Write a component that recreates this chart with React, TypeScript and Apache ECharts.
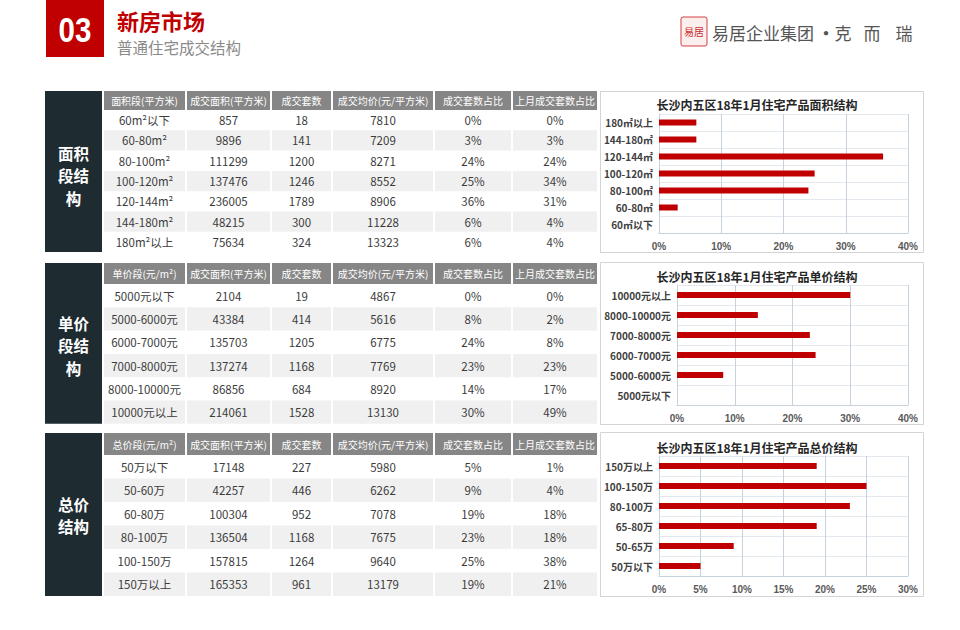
import React, { useEffect, useRef } from "react";
import * as echarts from "echarts";

// ---------- data ----------
const areaHeaders = ["面积段(平方米)", "成交面积(平方米)", "成交套数", "成交均价(元/平方米)", "成交套数占比", "上月成交套数占比"];
const areaRanges = ["60m²以下", "60-80m²", "80-100m²", "100-120m²", "120-144m²", "144-180m²", "180m²以上"];
const areaDealArea = [857, 9896, 111299, 137476, 236005, 48215, 75634];
const areaUnits = [18, 141, 1200, 1246, 1789, 300, 324];
const areaAvgPrice = [7810, 7209, 8271, 8552, 8906, 11228, 13323];
const areaShare = [0, 3, 24, 25, 36, 6, 6];
const areaPrevShare = [0, 3, 24, 34, 31, 4, 4];
const areaChartCats = ["60㎡以下", "60-80㎡", "80-100㎡", "100-120㎡", "120-144㎡", "144-180㎡", "180㎡以上"];

const unitHeaders = ["单价段(元/m²)", "成交面积(平方米)", "成交套数", "成交均价(元/平方米)", "成交套数占比", "上月成交套数占比"];
const unitRanges = ["5000元以下", "5000-6000元", "6000-7000元", "7000-8000元", "8000-10000元", "10000元以上"];
const unitDealArea = [2104, 43384, 135703, 137274, 86856, 214061];
const unitUnits = [19, 414, 1205, 1168, 684, 1528];
const unitAvgPrice = [4867, 5616, 6775, 7769, 8920, 13130];
const unitShare = [0, 8, 24, 23, 14, 30];
const unitPrevShare = [0, 2, 8, 23, 17, 49];
const unitChartCats = ["5000元以下", "5000-6000元", "6000-7000元", "7000-8000元", "8000-10000元", "10000元以上"];

const totalHeaders = ["总价段(元/m²)", "成交面积(平方米)", "成交套数", "成交均价(元/平方米)", "成交套数占比", "上月成交套数占比"];
const totalRanges = ["50万以下", "50-60万", "60-80万", "80-100万", "100-150万", "150万以上"];
const totalDealArea = [17148, 42257, 100304, 136504, 157815, 165353];
const totalUnits = [227, 446, 952, 1168, 1264, 961];
const totalAvgPrice = [5980, 6262, 7078, 7675, 9640, 13179];
const totalShare = [5, 9, 19, 23, 25, 19];
const totalPrevShare = [1, 4, 18, 18, 38, 21];
const totalChartCats = ["50万以下", "50-65万", "65-80万", "80-100万", "100-150万", "150万以上"];

const chartTitles = ["长沙内五区18年1月住宅产品面积结构", "长沙内五区18年1月住宅产品单价结构", "长沙内五区18年1月住宅产品总价结构"];
const sideLabels = [["面积", "段结", "构"], ["单价", "段结", "构"], ["总价", "结构"]];

// ---------- layout ----------
const CJK = '"Noto Sans CJK SC", "Noto Sans", sans-serif';
const RED = "#c00000";
const colEdges = [103, 186, 271, 332, 434, 512, 598];

type TableLayout = { top: number; headerH: number; rowH: number; labelMid: number };
const tableLayouts: TableLayout[] = [
  { top: 91, headerH: 19, rowH: 20.3, labelMid: 175 },
  { top: 263, headerH: 21, rowH: 23.3, labelMid: 345 },
  { top: 433, headerH: 22, rowH: 23.5, labelMid: 515 },
];

function pct(v: number) {
  return v + "%";
}

function buildTable(idx: number, headers: string[], rows: string[][]) {
  const L = tableLayouts[idx];
  const els: any[] = [];
  const bottom = L.top + L.headerH + L.rowH * rows.length;
  els.push({
    type: "rect",
    shape: { x: 45, y: L.top, width: 57, height: bottom - L.top },
    style: { fill: "#1e2b31" },
  });
  const lines = sideLabels[idx];
  const lh = 22.5;
  lines.forEach((t, k) => {
    els.push({
      type: "text",
      x: 73.5,
      y: L.labelMid + (k - (lines.length - 1) / 2) * lh,
      style: {
        text: t,
        fill: "#ffffff",
        font: `bold 15.5px ${CJK}`,
        align: "center",
        verticalAlign: "middle",
      },
    });
  });
  for (let c = 0; c < 6; c++) {
    const x0 = colEdges[c] + 1;
    const x1 = colEdges[c + 1] - 1;
    els.push({
      type: "rect",
      shape: { x: x0, y: L.top, width: x1 - x0, height: L.headerH },
      style: { fill: "#868686" },
    });
    els.push({
      type: "text",
      x: (x0 + x1) / 2,
      y: L.top + L.headerH / 2,
      style: {
        text: headers[c],
        fill: "#ffffff",
        font: `10px ${CJK}`,
        align: "center",
        verticalAlign: "middle",
      },
    });
  }
  rows.forEach((row, r) => {
    const y0 = L.top + L.headerH + r * L.rowH;
    for (let c = 0; c < 6; c++) {
      const x0 = colEdges[c] + 1;
      const x1 = colEdges[c + 1] - 1;
      if (r % 2 === 1) {
        els.push({
          type: "rect",
          shape: { x: x0, y: y0, width: x1 - x0, height: L.rowH },
          style: { fill: "#f0f0f0" },
        });
      }
      els.push({
        type: "text",
        x: (x0 + x1) / 2,
        y: y0 + L.rowH / 2,
        style: {
          text: row[c],
          fill: "#3c3c3c",
          font: `11.5px ${CJK}`,
          align: "center",
          verticalAlign: "middle",
        },
      });
    }
  });
  return els;
}

function makeRows(r: string[], a: number[], u: number[], p: number[], s: number[], ps: number[]) {
  return r.map((name, i) => [name, String(a[i]), String(u[i]), String(p[i]), pct(s[i]), pct(ps[i])]);
}

const chartBoxes = [
  { top: 91, bottom: 252, gridLeft: 659, gridTop: 114, gridBottom: 233, titleY: 104, max: 40, interval: 10 },
  { top: 262, bottom: 424, gridLeft: 677, gridTop: 285, gridBottom: 405, titleY: 276, max: 40, interval: 10 },
  { top: 432, bottom: 596, gridLeft: 659, gridTop: 456, gridBottom: 576, titleY: 447, max: 30, interval: 5 },
];
const chartCats = [areaChartCats, unitChartCats, totalChartCats];
const chartVals = [areaShare, unitShare, totalShare];

export default function App() {
  const ref = useRef<HTMLDivElement>(null);
  useEffect(() => {
    if (!ref.current) return;
    const chart = echarts.init(ref.current, undefined, { renderer: "svg" });

    const graphics: any[] = [];
    graphics.push({ type: "rect", shape: { x: 46, y: 0, width: 58, height: 57 }, style: { fill: RED } });
    graphics.push({
      type: "text",
      x: 75,
      y: 29,
      scaleX: 0.82,
      style: { text: "03", fill: "#fff", font: `bold 36px "Liberation Sans", Arial, sans-serif`, align: "center", verticalAlign: "middle" },
    });
    graphics.push({
      type: "text",
      x: 117,
      y: 20,
      style: { text: "新房市场", fill: RED, font: `bold 22px ${CJK}`, align: "left", verticalAlign: "middle" },
    });
    graphics.push({
      type: "text",
      x: 117,
      y: 47,
      style: { text: "普通住宅成交结构", fill: "#8a8a8a", font: `15.5px ${CJK}`, align: "left", verticalAlign: "middle" },
    });
    graphics.push({
      type: "rect",
      shape: { x: 681, y: 17, width: 26, height: 29, r: 2 },
      style: { fill: "#fdeeee", stroke: "#d04040", lineWidth: 1 },
    });
    graphics.push({
      type: "text",
      x: 694,
      y: 31.5,
      style: { text: "易居", fill: "#c83030", font: `10px ${CJK}`, align: "center", verticalAlign: "middle" },
    });
    graphics.push({
      type: "text",
      x: 712,
      y: 32,
      style: { text: "易居企业集团", fill: "#555", font: `17px ${CJK}`, align: "left", verticalAlign: "middle" },
    });
    const logoRest = [
      { t: "·", x: 826 },
      { t: "克", x: 843 },
      { t: "而", x: 872 },
      { t: "瑞", x: 904 },
    ];
    logoRest.forEach((l) => {
      graphics.push({
        type: "text",
        x: l.x,
        y: 32,
        style: { text: l.t, fill: "#555", font: `${l.t === "·" ? "bold " : ""}17px ${CJK}`, align: "center", verticalAlign: "middle" },
      });
    });

    graphics.push(...buildTable(0, areaHeaders, makeRows(areaRanges, areaDealArea, areaUnits, areaAvgPrice, areaShare, areaPrevShare)));
    graphics.push(...buildTable(1, unitHeaders, makeRows(unitRanges, unitDealArea, unitUnits, unitAvgPrice, unitShare, unitPrevShare)));
    graphics.push(...buildTable(2, totalHeaders, makeRows(totalRanges, totalDealArea, totalUnits, totalAvgPrice, totalShare, totalPrevShare)));

    chartBoxes.forEach((b, i) => {
      graphics.push({
        type: "rect",
        z: -10,
        shape: { x: 600.5, y: b.top + 0.5, width: 323, height: b.bottom - b.top },
        style: { fill: "#ffffff", stroke: "#d4d4d4", lineWidth: 1 },
      });
      graphics.push({
        type: "text",
        x: 757,
        y: b.titleY,
        style: { text: chartTitles[i], fill: "#262626", font: `bold 12px ${CJK}`, align: "center", verticalAlign: "middle" },
      });
    });

    const grids = chartBoxes.map((b) => ({
      left: b.gridLeft,
      right: 960 - 908,
      top: b.gridTop,
      height: b.gridBottom - b.gridTop,
      containLabel: false,
    }));
    const xAxes = chartBoxes.map((b, i) => ({
      type: "value",
      gridIndex: i,
      min: 0,
      max: b.max,
      interval: b.interval,
      axisLine: { show: true, lineStyle: { color: "#c6d2de" } },
      axisTick: { show: false },
      splitLine: { show: true, lineStyle: { color: "#c6d2de" } },
      axisLabel: {
        formatter: "{value}%",
        color: "#595959",
        fontSize: 10,
        fontWeight: "bold",
        fontFamily: '"Liberation Sans", Arial, sans-serif',
        margin: 8,
      },
    }));
    const yAxes = chartBoxes.map((b, i) => ({
      type: "category",
      gridIndex: i,
      data: chartCats[i],
      axisLine: { show: true, lineStyle: { color: "#c6d2de" } },
      axisTick: { show: false },
      splitLine: { show: true, lineStyle: { color: "#e2e8ee" } },
      axisLabel: {
        color: "#404040",
        fontSize: 10,
        fontWeight: "bold",
        fontFamily: CJK,
        margin: 6,
      },
    }));
    const series = chartBoxes.map((b, i) => ({
      type: "bar",
      xAxisIndex: i,
      yAxisIndex: i,
      data: chartVals[i],
      barWidth: 6,
      itemStyle: { color: RED },
      silent: true,
    }));

    chart.setOption({
      animation: false,
      backgroundColor: "#ffffff",
      grid: grids,
      xAxis: xAxes,
      yAxis: yAxes,
      series,
      graphic: { elements: graphics },
    });
    return () => chart.dispose();
  }, []);
  return <div ref={ref} style={{ position: "fixed", left: 0, top: 0, width: 960, height: 630 }} />;
}
